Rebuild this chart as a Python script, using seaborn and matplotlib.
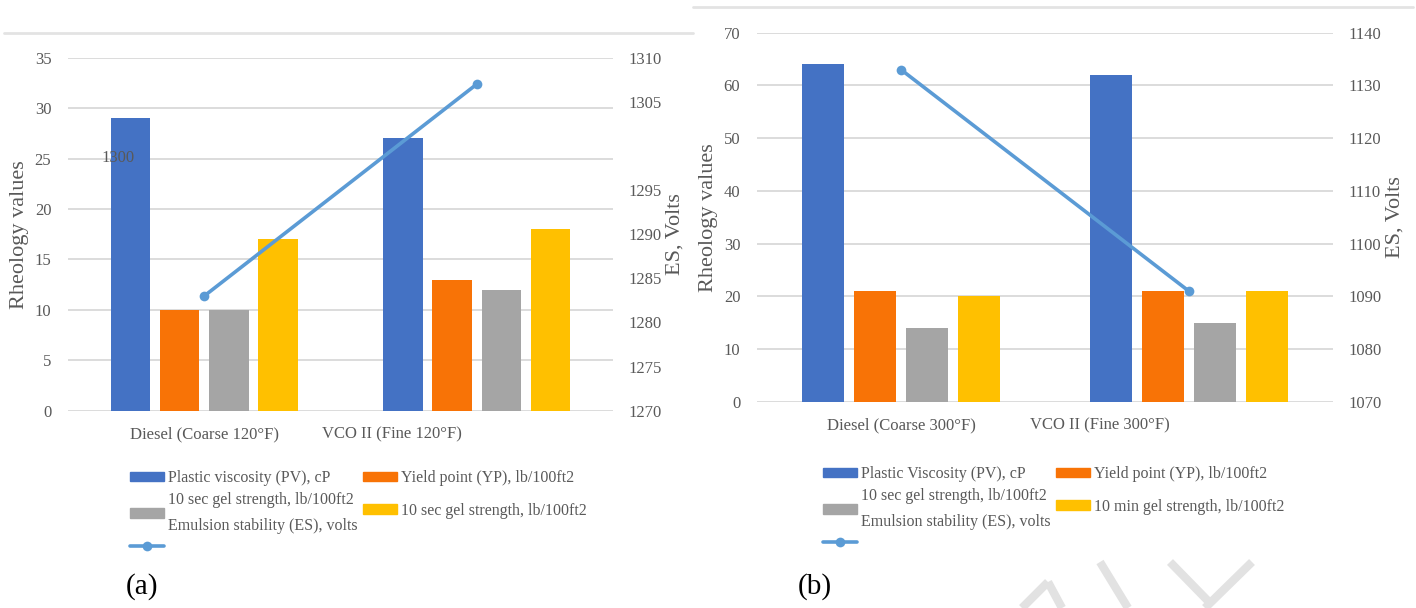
import matplotlib.pyplot as plt
import matplotlib.lines as mlines
import matplotlib.patches as mpatches
import pandas as pd
import seaborn as sns

# ---- data ----
categories_a = ['Diesel (Coarse 120°F)', 'VCO II (Fine 120°F)']
pv_a = [29, 27]
yp_a = [10, 13]
gel10s_a = [10, 12]
gel_yel_a = [17, 18]
es_a = [1283, 1307]

categories_b = ['Diesel (Coarse 300°F)', 'VCO II (Fine 300°F)']
pv_b = [64, 62]
yp_b = [21, 21]
gel10s_b = [14, 15]
gel10m_b = [20, 21]
es_b = [1133, 1091]

legend_a = ['Plastic viscosity (PV), cP',
            '10 sec gel strength, lb/100ft2\nEmulsion stability (ES), volts',
            'Yield point (YP), lb/100ft2',
            '10 sec gel strength, lb/100ft2']
legend_b = ['Plastic Viscosity (PV), cP',
            '10 sec gel strength, lb/100ft2\nEmulsion stability (ES), volts',
            'Yield point (YP), lb/100ft2',
            '10 min gel strength, lb/100ft2']

series_keys = ['PV', 'YP', 'gel1', 'gel2']
colors = ['#4472C4', '#F87306', '#A5A5A5', '#FFC000']
line_color = '#5B9BD5'
grid_color = '#D9D9D9'
text_color = '#595959'

W, H = 1416, 608

sns.set_theme(style='white')
plt.rcParams['font.family'] = ['Liberation Serif', 'DejaVu Serif']


def fx(px):
    return px / W


def fy(py):
    return 1 - py / H


def panel(rect, cats, series, es, ylim, ystep, y2lim, y2ticks, label_shift):
    ax = fig.add_axes(rect)
    df = pd.DataFrame({
        'category': cats * len(series),
        'series': [k for k in series_keys for _ in cats],
        'value': [v for s in series for v in s],
    })
    sns.barplot(data=df, x='category', y='value', hue='series', palette=colors,
                width=0.723, gap=0.2, saturation=1, errorbar=None,
                linewidth=0, legend=False, ax=ax)
    ax.set_ylim(*ylim)
    ax.set_yticks(range(ylim[0], ylim[1] + 1, ystep))
    ax.yaxis.grid(True, color=grid_color, lw=1.3)
    ax.set_axisbelow(True)
    ax.set_xlabel('')
    ax.set_ylabel('Rheology values', fontsize=16, color=text_color, labelpad=4)

    ax2 = ax.twinx()
    sns.lineplot(x=cats, y=es, ax=ax2, color=line_color, lw=2.6,
                 marker='o', markersize=7, markeredgewidth=0)
    ax2.set_ylim(*y2lim)
    ax2.set_yticks(y2ticks)
    ax2.set_ylabel('ES, Volts', fontsize=16, color=text_color, labelpad=3)
    ax2.grid(False)

    for a in (ax, ax2):
        for sp in a.spines.values():
            sp.set_visible(False)
        a.tick_params(length=0, labelsize=12, labelcolor=text_color)
    ax.tick_params(axis='y', pad=12)
    ax2.tick_params(axis='y', pad=11)
    ax.tick_params(axis='x', pad=11)
    ax.set_xlim(-0.5, 1.5)
    ax.set_xticks([0, 1 + label_shift], labels=cats)
    return ax, ax2


def legend(x_px, y_px, labels):
    h = [mpatches.Patch(color=c) for c in colors]
    line_h = mlines.Line2D([], [], color=line_color, lw=2.6, marker='o',
                           markersize=7, markeredgewidth=0)
    common = dict(loc='upper left', frameon=False, borderpad=0, fontsize=11.5,
                  handlelength=2.1, handleheight=0.55, handletextpad=0.3,
                  labelcolor=text_color)
    l1 = fig.legend([h[0], h[2], line_h], [labels[0], labels[1], ''],
                    bbox_to_anchor=(fx(x_px), fy(y_px)), labelspacing=0.35,
                    **common)
    for t in l1.get_texts():
        t.set_linespacing(1.85)
    fig.legend([h[1], h[3]], [labels[2], labels[3]],
               bbox_to_anchor=(fx(x_px + 233), fy(y_px)), labelspacing=1.05,
               **common)


fig = plt.figure(figsize=(W / 100, H / 100), dpi=100)

# panel (a)
ax_a, ax2_a = panel([fx(68), fy(410.7), fx(613 - 68), (410.7 - 57.7) / H],
                    categories_a, [pv_a, yp_a, gel10s_a, gel_yel_a], es_a,
                    (0, 35), 5, (1270, 1310),
                    [1270, 1275, 1280, 1285, 1290, 1295, 1305, 1310], -0.31)
# stray right-axis label drawn inside the plot area in the source figure
ax_a.text(0.092, 0.716, '1300', transform=ax_a.transAxes, fontsize=12,
          color=text_color, ha='center', va='center')

# panel (b)
ax_b, ax2_b = panel([fx(757), fy(402), fx(1333 - 757), (402 - 32.7) / H],
                    categories_b, [pv_b, yp_b, gel10s_b, gel10m_b], es_b,
                    (0, 70), 10, (1070, 1140), list(range(1070, 1141, 10)), -0.31)

legend(122, 462, legend_a)
legend(815, 458, legend_b)

fig.text(fx(142), fy(587), '(a)', fontsize=21, color='black', ha='center', va='center')
fig.text(fx(815), fy(587), '(b)', fontsize=21, color='black', ha='center', va='center')

# panel frames (top rules)
fig.add_artist(mlines.Line2D([fx(4), fx(693)], [fy(33)] * 2, color='#E3E3E3', lw=2))
fig.add_artist(mlines.Line2D([fx(693), fx(1413)], [fy(7)] * 2, color='#E3E3E3', lw=2))

# faint watermark strokes at bottom right
wm = dict(color='#E2E2E2', lw=6, solid_capstyle='butt', zorder=-1)
for xs, ys in [((1022, 1048), (608, 582)), ((1048, 1062), (582, 608)),
               ((1100, 1128), (562, 608)), ((1170, 1210), (562, 603)),
               ((1252, 1205), (562, 608))]:
    fig.add_artist(mlines.Line2D([fx(x) for x in xs], [fy(y) for y in ys], **wm))

fig.savefig('out.png', dpi=100)
